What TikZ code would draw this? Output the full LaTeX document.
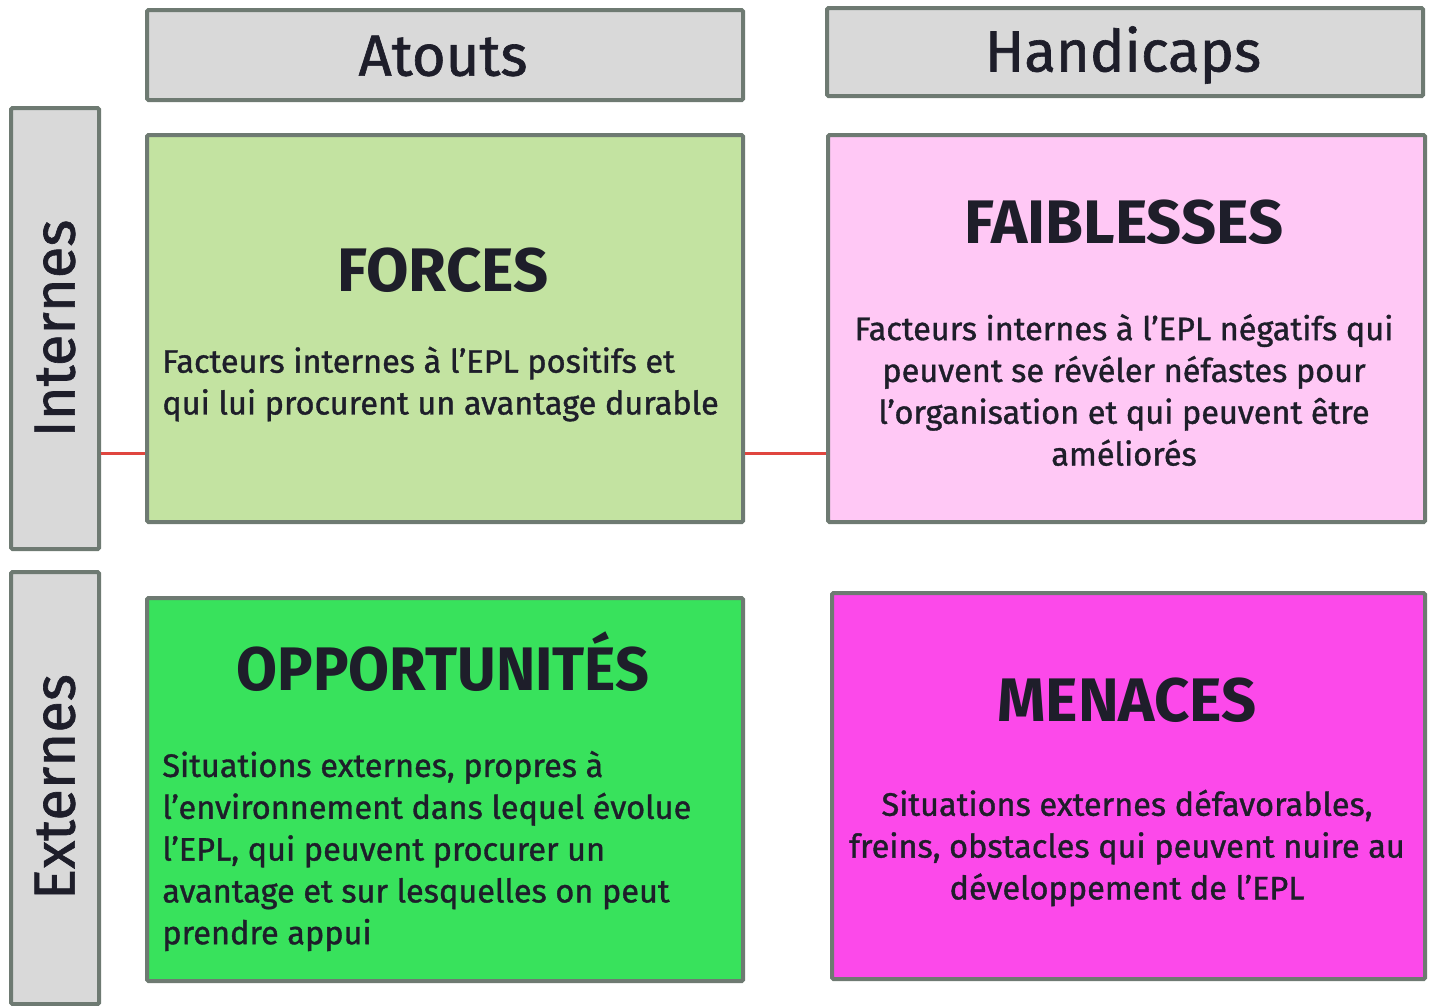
\documentclass[tikz,border=0pt]{standalone}
\usepackage{fontspec}
\setmainfont{Fira Sans}
\definecolor{edge}{HTML}{6E7A72}
\definecolor{greyfill}{HTML}{D9D9D9}
\definecolor{lightgreen}{HTML}{C3E3A1}
\definecolor{stronggreen}{HTML}{38E25C}
\definecolor{lightpink}{HTML}{FFC8F5}
\definecolor{magentafill}{HTML}{FC49EA}
\definecolor{redline}{HTML}{E0463F}
\definecolor{ink}{HTML}{1E1E2A}
\tikzset{
  cell/.style={draw=edge, line width=2.3pt, rounded corners=0.8pt},
  headtxt/.style={font=\fontsize{35}{40}\selectfont\bfseries, text=ink, inner sep=0pt},
  labtxt/.style={font=\fontsize{33}{38}\selectfont\addfontfeature{FakeBold=1.1}, text=ink, inner sep=0pt},
  bodytxt/.style={font=\fontsize{18.5}{23.8}\selectfont\addfontfeature{FakeBold=1.1}, text=ink, inner sep=0pt},
  link/.style={draw=redline, line width=1.7pt}
}
\begin{document}
\begin{tikzpicture}[x=0.02cm,y=-0.02cm]
\useasboundingbox (0,0) rectangle (1429,1005);
% column / row headers
\node[cell, fill=greyfill, minimum width=596*0.02cm, minimum height=90*0.02cm, anchor=north west] (atouts) at (145,8) {};
\node[labtxt] at (443,56) {Atouts};
\node[cell, fill=greyfill, minimum width=596*0.02cm, minimum height=88*0.02cm, anchor=north west] (handicaps) at (825,6) {};
\node[labtxt] at (1123,55) {Handicaps};
\node[cell, fill=greyfill, minimum width=88*0.02cm, minimum height=441*0.02cm, anchor=north west] (internes) at (9,106) {};
\node[labtxt, rotate=90] at (internes.center) {Internes};
\node[cell, fill=greyfill, minimum width=88*0.02cm, minimum height=432*0.02cm, anchor=north west] (externes) at (9,570) {};
\node[labtxt, rotate=90] at (55,787) {Externes};
% quadrants
\node[cell, fill=lightgreen, minimum width=596*0.02cm, minimum height=387*0.02cm, anchor=north west] (forces) at (145,133) {};
\node[cell, fill=lightpink, minimum width=597*0.02cm, minimum height=387*0.02cm, anchor=north west] (faiblesses) at (826,133) {};
\node[cell, fill=stronggreen, minimum width=596*0.02cm, minimum height=383*0.02cm, anchor=north west] (opportunites) at (145,596) {};
\node[cell, fill=magentafill, minimum width=593*0.02cm, minimum height=386*0.02cm, anchor=north west] (menaces) at (830,591) {};
% links
\coordinate (lk) at (0,453);
\draw[link] (internes.east |- lk) -- (forces.west |- lk);
\draw[link] (forces.east |- lk) -- (faiblesses.west |- lk);
% texts
\node[headtxt] (tforces) at (443,270) {FORCES};
\node[bodytxt, align=left, anchor=west] (bforces) at (162,384) {Facteurs internes à l’EPL positifs et\\qui lui procurent un avantage durable};
\node[headtxt] (tfaib) at (1124,222) {FAIBLESSES};
\node[bodytxt, align=center] (bfaib) at (1124,390) {Facteurs internes à l’EPL négatifs qui\\peuvent se révéler néfastes pour\\l’organisation et qui peuvent être\\améliorés};
\node[headtxt, xscale=0.965] (topp) at (443,662) {OPPORTUNITÉS};
\node[bodytxt, align=left, anchor=west] (bopp) at (162,851) {Situations externes, propres à\\l’environnement dans lequel évolue\\l’EPL, qui peuvent procurer un\\avantage et sur lesquelles on peut\\prendre appui};
\node[headtxt] (tmen) at (1127,700) {MENACES};
\node[bodytxt, align=center] (bmen) at (1127,848) {Situations externes défavorables,\\freins, obstacles qui peuvent nuire au\\développement de l’EPL};
\end{tikzpicture}
\end{document}
